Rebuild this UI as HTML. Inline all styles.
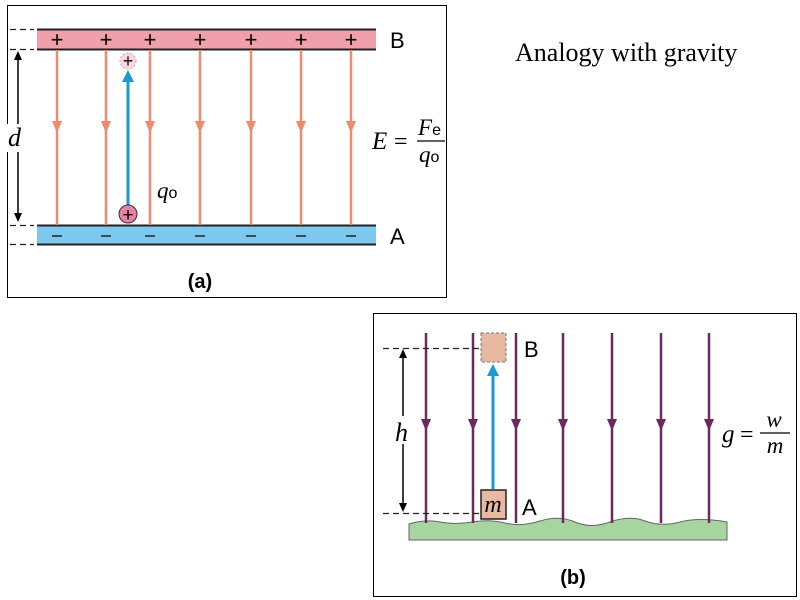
<!DOCTYPE html>
<html><head><meta charset="utf-8"><style>
body{margin:0;background:#fff;}
svg{display:block;font-family:"Liberation Sans",sans-serif;}
.it{font-family:"Liberation Serif",serif;font-style:italic;}
</style></head><body>
<svg width="800" height="600" viewBox="0 0 800 600">
<text x="515" y="61" font-family="Liberation Serif,serif" font-size="26">Analogy with gravity</text>

<g>
<rect x="7.5" y="5.5" width="439" height="292" fill="none" stroke="#000"/>
<rect x="37" y="29" width="339" height="20" fill="#f0a0aa"/>
<line x1="37" y1="29.5" x2="376" y2="29.5" stroke="#222" stroke-width="2"/>
<line x1="37" y1="49.5" x2="376" y2="49.5" stroke="#222" stroke-width="2"/>
<rect x="37" y="225" width="339" height="19" fill="#7cc8ee"/>
<line x1="37" y1="225.5" x2="376" y2="225.5" stroke="#222" stroke-width="2"/>
<line x1="37" y1="244.5" x2="376" y2="244.5" stroke="#222" stroke-width="2"/>
<g stroke="#222" stroke-dasharray="6,4" stroke-width="1.2">
<line x1="10" y1="29.5" x2="34" y2="29.5"/><line x1="10" y1="49.5" x2="34" y2="49.5"/>
<line x1="10" y1="225.5" x2="34" y2="225.5"/><line x1="10" y1="244.5" x2="34" y2="244.5"/>
</g>
<g id="flines"></g>
<line x1="18" y1="56" x2="18" y2="217" stroke="#000" stroke-width="1.5"/>
<path d="M14,60 L18,51 L22,60 Z M14,213 L18,222 L22,213 Z" fill="#000"/>
<rect x="6" y="124" width="22" height="28" fill="#fff"/>
<text x="8" y="146" class="it" font-size="26">d</text>
<line x1="128" y1="205" x2="128" y2="80" stroke="#1a9ad0" stroke-width="3"/>
<path d="M122,82 L128,70 L134,82 Z" fill="#1a9ad0"/>
<circle cx="128" cy="61" r="8" fill="#f8d8e0" stroke="#d8a0b0" stroke-dasharray="2,2"/>
<text x="128" y="67" text-anchor="middle" font-size="18">+</text>
<circle cx="128" cy="214" r="9" fill="#e880a8" stroke="#333"/>
<text x="128" y="221" text-anchor="middle" font-size="19">+</text>
<text x="157" y="198" class="it" font-size="23">q<tspan font-style="normal" font-family="Liberation Sans" font-size="16">o</tspan></text>
<text x="390" y="48" font-size="22">B</text>
<text x="390" y="244" font-size="22">A</text>
<g>
<text x="372" y="149" class="it" font-size="25">E</text>
<text x="394" y="149" font-size="24" font-family="Liberation Serif,serif">=</text>
<text x="418" y="135" class="it" font-size="23">F<tspan font-style="normal" font-family="Liberation Sans" font-size="16">e</tspan></text>
<line x1="417" y1="141" x2="445" y2="141" stroke="#000" stroke-width="1.2"/>
<text x="419" y="162" class="it" font-size="23">q<tspan font-style="normal" font-family="Liberation Sans" font-size="16">o</tspan></text>
</g>
<text x="200" y="288" text-anchor="middle" font-size="20" font-weight="bold">(a)</text>
</g>

<g>
<rect x="373.5" y="313.5" width="423" height="283" fill="none" stroke="#000"/>
<path d="M409,524 Q425,519 440,522 T472,522 T505,523 T540,521 T575,522 T610,522 T645,521 T680,522 T727,522 L727,540 L409,540 Z" fill="#a8d4a0" stroke="#666"/>
<g id="glines"></g>
<g stroke="#222" stroke-dasharray="6,4" stroke-width="1.2">
<line x1="383" y1="348.5" x2="480" y2="348.5"/><line x1="383" y1="513.5" x2="480" y2="513.5"/>
</g>
<line x1="403" y1="354" x2="403" y2="506" stroke="#000" stroke-width="1.5"/>
<path d="M399,358 L403,349 L407,358 Z M399,503 L403,512 L407,503 Z" fill="#000"/>
<rect x="393" y="416" width="20" height="28" fill="#fff"/>
<text x="395" y="441" class="it" font-size="26">h</text>
<rect x="481" y="333" width="25" height="29" fill="#e8b8a0" stroke="#777" stroke-dasharray="3,2"/>
<line x1="493" y1="489" x2="493" y2="374" stroke="#1a9ad0" stroke-width="3"/>
<path d="M487,376 L493,364 L499,376 Z" fill="#1a9ad0"/>
<rect x="481" y="490" width="25" height="29" fill="#e8b8a0" stroke="#222" stroke-width="1.5"/>
<text x="493" y="512" text-anchor="middle" class="it" font-size="24">m</text>
<text x="524" y="357" font-size="22">B</text>
<text x="522" y="515" font-size="22">A</text>
<g>
<text x="722" y="442" class="it" font-size="25">g</text>
<text x="740" y="442" font-size="24" font-family="Liberation Serif,serif">=</text>
<text x="774" y="427" class="it" font-size="23" text-anchor="middle">w</text>
<line x1="760" y1="433" x2="790" y2="433" stroke="#000" stroke-width="1.2"/>
<text x="775" y="453" class="it" font-size="23" text-anchor="middle">m</text>
</g>
<text x="573" y="584" text-anchor="middle" font-size="20" font-weight="bold">(b)</text>
</g>
</svg>
<script>
const fieldX=[57,106,150,200,251,301,351];
const gravX=[426,473,516,563,612,661,709];
const NS="http://www.w3.org/2000/svg";
const fl=document.getElementById('flines');
fieldX.forEach(function(x){
 const l=document.createElementNS(NS,'line');
 l.setAttribute('x1',x);l.setAttribute('x2',x);l.setAttribute('y1',50);l.setAttribute('y2',225);
 l.setAttribute('stroke','#f08a6a');l.setAttribute('stroke-width','2.5');
 
 
 fl.appendChild(l);
 const a=document.createElementNS(NS,'path');
 a.setAttribute('d','M'+(x-5)+',121 L'+(x+5)+',121 L'+x+',133 Z');a.setAttribute('fill','#f08a6a');
 
 
 fl.appendChild(a);
 const p=document.createElementNS(NS,'text');
 p.setAttribute('x',x);p.setAttribute('y',47);p.setAttribute('text-anchor','middle');p.setAttribute('font-size','22');p.textContent='+';
 
 
 fl.appendChild(p);
 const m=document.createElementNS(NS,'line');
 m.setAttribute('x1',x-5);m.setAttribute('x2',x+5);m.setAttribute('y1',236);m.setAttribute('y2',236);
 m.setAttribute('stroke','#222');m.setAttribute('stroke-width','1.5');
 
 
 fl.appendChild(m);
});
const gl=document.getElementById('glines');
gravX.forEach(function(x){
 const l=document.createElementNS(NS,'line');
 l.setAttribute('x1',x);l.setAttribute('x2',x);l.setAttribute('y1',333);l.setAttribute('y2',523);
 l.setAttribute('stroke','#6a2a5e');l.setAttribute('stroke-width','2.5');
 
 
 gl.appendChild(l);
 const a=document.createElementNS(NS,'path');
 a.setAttribute('d','M'+(x-5)+',419 L'+(x+5)+',419 L'+x+',431 Z');a.setAttribute('fill','#6a2a5e');
 
 
 gl.appendChild(a);
});
</script>
</body></html>
